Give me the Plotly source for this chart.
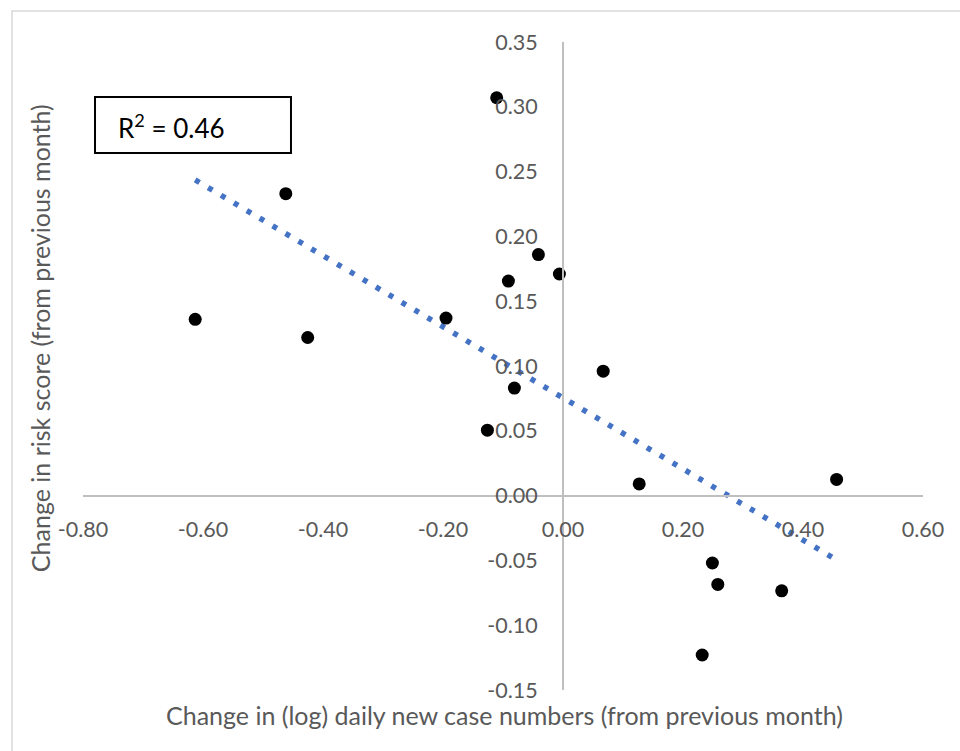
import numpy as np
import plotly.graph_objects as go

# Month-on-month changes per region
log_case_change = [-0.613, -0.462, -0.4255, -0.195, -0.1105, -0.126, -0.091, -0.081,
                   -0.041, -0.006, 0.067, 0.127, 0.456, 0.249, 0.258, 0.3645, 0.232]
risk_score_change = [0.136, 0.233, 0.122, 0.137, 0.307, 0.0505, 0.1655, 0.083,
                     0.186, 0.171, 0.096, 0.009, 0.0125, -0.052, -0.0685, -0.0735, -0.123]

x_tickvals = [-0.8, -0.6, -0.4, -0.2, 0.0, 0.2, 0.4, 0.6]
x_ticktext = ["-0.80", "-0.60", "-0.40", "-0.20", "0.00", "0.20", "0.40", "0.60"]
y_tickvals = [-0.15, -0.10, -0.05, 0.0, 0.05, 0.10, 0.15, 0.20, 0.25, 0.30, 0.35]
y_ticktext = ["-0.15", "-0.10", "-0.05", "0.00", "0.05", "0.10", "0.15", "0.20",
              "0.25", "0.30", "0.35"]

x = np.array(log_case_change)
y = np.array(risk_score_change)

# Linear least-squares trend line over the data range
slope, intercept = np.polyfit(x, y, 1)
fit_x = np.array([x.min(), x.max()])
fit_y = slope * fit_x + intercept
pred = slope * x + intercept
r2 = 1 - np.sum((y - pred) ** 2) / np.sum((y - y.mean()) ** 2)

FONT = "Lato"
GREY = "#595959"
AXIS = "#bfbfbf"
TICK_SIZE = 21.5
TITLE_SIZE = 25

fig = go.Figure()
fig.add_trace(go.Scatter(
    x=fit_x, y=fit_y, mode="lines",
    line=dict(color="#4472C4", width=5.5, dash="5px,10px"),
    hoverinfo="skip", showlegend=False,
))
fig.add_trace(go.Scatter(
    x=x, y=y, mode="markers",
    marker=dict(color="black", size=13, line=dict(width=0)),
    showlegend=False,
))

x_lo, x_hi = -0.8, 0.6
y_lo, y_hi = -0.15, 0.35

fig.update_layout(
    width=960, height=751,
    margin=dict(l=83, r=37, t=42, b=61),
    paper_bgcolor="white", plot_bgcolor="white",
    font=dict(family=FONT, color=GREY, size=TICK_SIZE),
    xaxis=dict(
        range=[x_lo, x_hi], tickvals=x_tickvals, ticktext=x_ticktext,
        showgrid=False, zeroline=False, showline=True,
        linecolor=AXIS, linewidth=2, ticks="",
        anchor="free", position=(0 - y_lo) / (y_hi - y_lo),
        ticklabelstandoff=15,
        tickfont=dict(family=FONT, color=GREY, size=TICK_SIZE),
    ),
    yaxis=dict(
        range=[y_lo, y_hi], tickvals=y_tickvals, ticktext=y_ticktext,
        showgrid=False, zeroline=False, showline=True,
        linecolor=AXIS, linewidth=2, ticks="",
        anchor="free", position=(0 - x_lo) / (x_hi - x_lo),
        ticklabelstandoff=20,
        tickfont=dict(family=FONT, color=GREY, size=TICK_SIZE),
    ),
    shapes=[
        # outer chart border
        dict(type="rect", xref="paper", yref="paper",
             x0=-0.0845, x1=1.3, y0=-0.3, y1=1.048,
             line=dict(color="#d9d9d9", width=1.5), fillcolor="rgba(0,0,0,0)",
             layer="below"),
        # R-squared box
        dict(type="rect", xref="paper", yref="paper",
             x0=0.0143, x1=0.2476, y0=0.8287, y1=0.9151,
             line=dict(color="black", width=2), fillcolor="white"),
    ],
    annotations=[
        dict(text=f"R<sup>2</sup> = {r2:.2f}", xref="paper", yref="paper",
             x=0.0393, y=0.870, xanchor="left", yanchor="middle",
             showarrow=False, font=dict(family=FONT, size=26, color="black")),
        dict(text="Change in (log) daily new case numbers (from previous month)",
             xref="paper", yref="paper", x=0.502, y=-0.038,
             xanchor="center", yanchor="middle", showarrow=False,
             font=dict(family=FONT, size=TITLE_SIZE, color=GREY)),
        dict(text="Change in risk score (from previous month)",
             xref="paper", yref="paper", x=-0.0512, y=0.543,
             xanchor="center", yanchor="middle", textangle=-90, showarrow=False,
             font=dict(family=FONT, size=TITLE_SIZE, color=GREY)),
    ],
)

fig.write_html("out.html")
